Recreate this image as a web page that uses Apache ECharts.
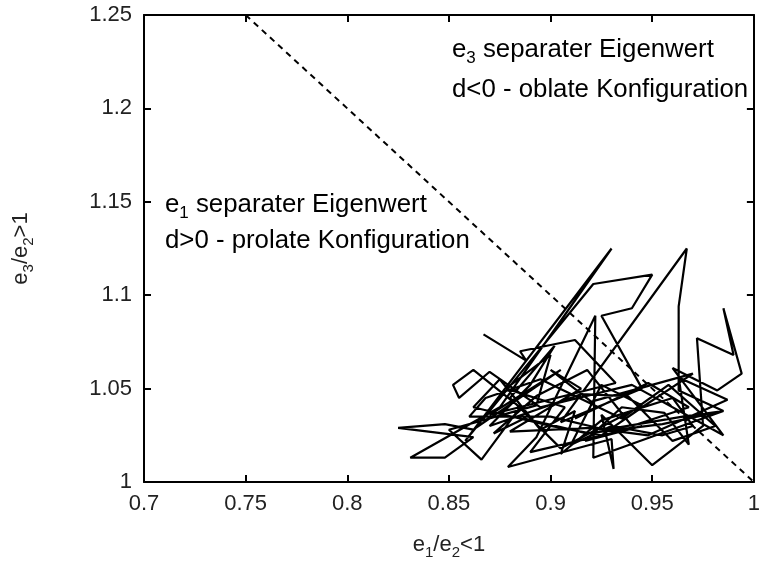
<!DOCTYPE html>
<html>
<head>
<meta charset="utf-8">
<script src="https://cdn.jsdelivr.net/npm/echarts@6/dist/echarts.min.js"></script>
<style>html,body{margin:0;padding:0;background:#fff}#c{width:763px;height:565px}</style>
</head>
<body>
<div id="c"></div>
<script>
const ratioX = [0.867,0.888,0.885,0.912,0.932,0.870,0.905,0.862,0.848,0.825,0.862,0.848,0.831,0.875,0.930,0.858,0.921,0.950,0.940,0.925,0.945,0.905,0.967,0.963,0.963,0.985,0.921,0.922,0.893,0.879,0.930,0.931,0.925,0.950,0.975,0.972,0.990,0.985,0.994,0.982,0.960,0.985,0.940,0.895,0.870,0.855,0.852,0.862,0.885,0.866,0.850,0.893,0.900,0.878,0.907,0.890,0.945,0.917,0.935,0.956,0.968,0.963,0.987,0.948,0.920,0.880,0.915,0.900,0.920,0.970,0.945,0.925,0.900,0.862,0.875,0.895,0.912,0.905,0.925,0.960,0.970,0.955,0.930,0.910,0.925,
  0.945,0.905,0.880,0.902,0.890,0.870,0.915,0.938,0.960,0.981,0.958,0.935,0.895,0.868,0.860,0.900,0.927,0.965,0.985,0.955,0.918,0.887,0.872,0.893,0.918,0.940,0.968,0.948,0.912];
const ratioY = [1.079,1.065,1.070,1.076,1.053,1.036,1.060,1.028,1.031,1.029,1.024,1.013,1.013,1.040,1.125,1.022,1.106,1.111,1.093,1.089,1.050,1.032,1.125,1.094,1.049,1.038,1.013,1.089,1.024,1.008,1.023,1.007,1.036,1.009,1.030,1.077,1.068,1.093,1.058,1.049,1.061,1.025,1.052,1.040,1.059,1.045,1.052,1.060,1.040,1.012,1.028,1.041,1.068,1.050,1.040,1.016,1.030,1.022,1.040,1.037,1.020,1.056,1.044,1.025,1.029,1.027,1.050,1.060,1.043,1.058,1.040,1.025,1.030,1.040,1.055,1.028,1.038,1.015,1.033,1.045,1.030,1.025,1.030,1.020,1.052,
  1.041,1.018,1.045,1.073,1.052,1.030,1.047,1.046,1.022,1.030,1.052,1.034,1.055,1.045,1.035,1.035,1.028,1.035,1.038,1.031,1.026,1.034,1.026,1.046,1.060,1.030,1.040,1.053,1.034];
const dividerX = [0.75, 1.0];
const dividerY = [1.25, 1.0];
const xTicks = {min: 0.7, max: 1.0, step: 0.05};
const yTicks = {min: 1.0, max: 1.25, step: 0.05};

const FONT = 'Liberation Sans';
const fmt = v => String(parseFloat(v.toFixed(2)));
const mkRich = (fs, sfs, lh) => ({
  n: {fontFamily: FONT, fontSize: fs, color: '#222', lineHeight: lh, verticalAlign: 'middle'},
  s: {fontFamily: FONT, fontSize: sfs, color: '#222', lineHeight: lh, verticalAlign: 'bottom'}
});
const richAxis = mkRich(22, 15, 30);
const richNote = mkRich(25.8, 17, 34);
const chart = echarts.init(document.getElementById('c'), null, {renderer: 'canvas'});
const axisLine = {show: true, lineStyle: {color: '#000', width: 2}};
const axisTick = {show: true, inside: true, length: 7, lineStyle: {color: '#000', width: 2}};
const lbl = {fontFamily: FONT, fontSize: 22, color: '#222', formatter: fmt};
chart.setOption({
  animation: false,
  grid: {left: 144, right: 6, top: 15, bottom: 80, containLabel: false},
  xAxis: [
    {type: 'value', min: xTicks.min, max: xTicks.max, interval: xTicks.step, position: 'bottom',
     axisLine, axisTick, splitLine: {show: false}, axisLabel: Object.assign({margin: 11}, lbl),
     name: '{n|e}{s|1}{n|/e}{s|2}{n|<1}', nameLocation: 'middle', nameGap: 48,
     nameTextStyle: {rich: richAxis}},
    {type: 'value', min: xTicks.min, max: xTicks.max, interval: xTicks.step, position: 'top',
     axisLine, axisTick, splitLine: {show: false}, axisLabel: {show: false}}
  ],
  yAxis: [
    {type: 'value', min: yTicks.min, max: yTicks.max, interval: yTicks.step, position: 'left',
     axisLine, axisTick, splitLine: {show: false}, axisLabel: Object.assign({margin: 12}, lbl),
     name: '{n|e}{s|3}{n|/e}{s|2}{n|>1}', nameLocation: 'middle', nameGap: 108, nameRotate: 90,
     nameTextStyle: {rich: richAxis}},
    {type: 'value', min: yTicks.min, max: yTicks.max, interval: yTicks.step, position: 'right',
     axisLine, axisTick, splitLine: {show: false}, axisLabel: {show: false}}
  ],
  series: [
    {type: 'line', data: ratioX.map((x, i) => [x, ratioY[i]]), showSymbol: false, symbol: 'none',
     lineStyle: {color: '#000', width: 2.2}, z: 3},
    {type: 'line', data: dividerX.map((x, i) => [x, dividerY[i]]), showSymbol: false, symbol: 'none',
     lineStyle: {color: '#000', width: 2, type: [6, 5]}, z: 2}
  ],
  graphic: [
    {type: 'text', left: 452, top: 37, style: {text: '{n|e}{s|3}{n| separater Eigenwert}', rich: richNote}},
    {type: 'text', left: 452, top: 77, style: {text: '{n|d<0 - oblate Konfiguration}', rich: richNote}},
    {type: 'text', left: 165, top: 192, style: {text: '{n|e}{s|1}{n| separater Eigenwert}', rich: richNote}},
    {type: 'text', left: 165, top: 228, style: {text: '{n|d>0 - prolate Konfiguration}', rich: richNote}}
  ]
});
</script>
</body>
</html>
